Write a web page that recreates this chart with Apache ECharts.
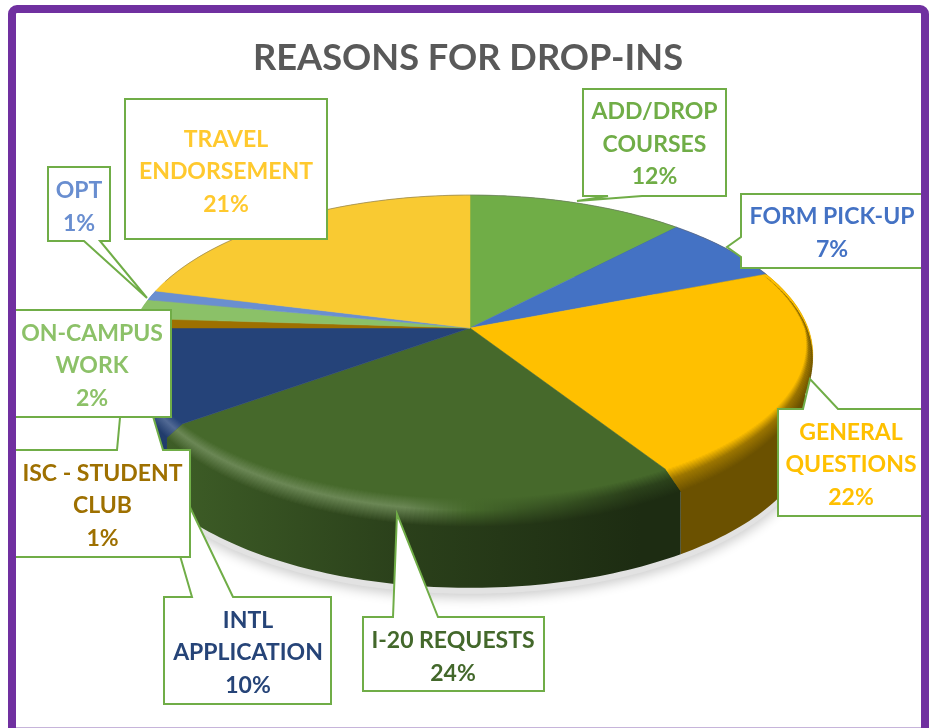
<!DOCTYPE html>
<html><head><meta charset="utf-8">
<style>html,body{margin:0;padding:0;background:#fff}#c{width:931px;height:728px}</style>
<script src="https://cdn.jsdelivr.net/npm/echarts@6/dist/echarts.min.js"></script>
</head><body><div id="c"></div>
<script>
const categories = ['ADD/DROP\nCOURSES','FORM PICK-UP','GENERAL\nQUESTIONS','I-20 REQUESTS','INTL\nAPPLICATION','ISC - STUDENT\nCLUB','ON-CAMPUS\nWORK','OPT','TRAVEL\nENDORSEMENT'];
const values = [12,7,22,24,10,1,2,1,21];
const faceColors = ['#70ad47','#4472c4','#ffc000','#46692b','#254379','#9e7000','#8bc168','#6a8fd0','#f9ca32'];
const textColors = ['#70ad47','#4472c4','#ffc000','#43682b','#264478','#9e7000','#8cc168','#698ed0','#ffc92e'];

// callout geometry: outline points, text centre, stacking order
const callouts = [
 {pts:[[583,89],[726,89],[726,196],[642,196],[577,201],[608,196],[583,196]],c:[654.5,144.5],o:1},
 {pts:[[741,194],[926,194],[926,268],[741,268],[741,257],[727,247],[741,237]],c:[832,233],o:1},
 {pts:[[778,409],[803,409],[810,379],[838,409],[926,409],[926,516],[778,516]],c:[851,465],o:1},
 {pts:[[363,617],[393,617],[397,514],[438,617],[544,617],[544,691],[363,691]],c:[453,657],o:1},
 {pts:[[164,597],[192,597],[129,380],[233,597],[331,597],[331,704],[164,704]],c:[248,653],o:1},
 {pts:[[12,450],[117,450],[128,332],[163,450],[190,450],[190,557],[12,557]],c:[102.5,506],o:2},
 {pts:[[12,310],[171,310],[171,417],[12,417]],c:[92,366],o:3},
 {pts:[[48,167],[110,167],[110,241],[100,241],[147,298],[84,241],[48,241]],c:[79,207],o:1},
 {pts:[[125,99],[327,99],[327,239],[125,239]],c:[226,172],o:1}
];

// projective view of the pie disc
const view = {cx:470, cy:328, R:338, Rv:155, k:0.166, depth:74, bottomScale:1};
function project(a, r, dy, scale){
  const s=Math.sin(a)*r, c=Math.cos(a)*r, d=1+view.k*c, m=scale||1;
  return [view.cx+m*view.R*s/d, view.cy+(dy||0)-m*view.Rv*c/d];
}
function arc(a0,a1,r,dy,scale){
  const n=Math.max(2,Math.ceil((a1-a0)/0.02)), out=[];
  for(let i=0;i<=n;i++) out.push(project(a0+(a1-a0)*i/n,r,dy,scale));
  return out;
}
function shade(hex,f){
  const n=parseInt(hex.slice(1),16);
  const ch=[n>>16,(n>>8)&255,n&255].map(v=>Math.max(0,Math.min(255,Math.round(f>1? v+(255-v)*(f-1):v*f))));
  return 'rgb('+ch.join(',')+')';
}
function ramp(x,stops){
  if(x<=stops[0][0]) return stops[0][1];
  for(let i=1;i<stops.length;i++){
    if(x<=stops[i][0]){const t=(x-stops[i-1][0])/(stops[i][0]-stops[i-1][0]);return stops[i-1][1]+t*(stops[i][1]-stops[i-1][1]);}
  }
  return stops[stops.length-1][1];
}
const wallRamp=[[140,0.92],[395,0.62],[640,0.42],[810,0.42]];
const rimRamp=[[140,1.2],[400,1.2],[520,0.85],[640,0.62],[810,0.6]];
const total = values.reduce((a,b)=>a+b,0);
const starts = []; values.reduce((acc,v,i)=>{starts[i]=acc;return acc+v;},0);

function renderItem(params, api){
  const i=params.dataIndex, v=api.value(0);
  const a0=starts[i]/total*2*Math.PI, a1=(starts[i]+v)/total*2*Math.PI;
  const base=faceColors[i], children=[];
  if(i===0){
    children.push({type:'polygon',z2:0,shape:{points:arc(0,2*Math.PI,1,view.depth+6,view.bottomScale)},
      style:{fill:'#e2e2e2',shadowBlur:12,shadowColor:'rgba(0,0,0,0.2)',shadowOffsetY:4}});
    children.push({type:'polyline',z2:4,shape:{points:arc(-1.25,1.2,1,0)},
      style:{fill:null,stroke:'rgba(110,110,110,0.5)',lineWidth:1}});
  }
  const top=arc(a0,a1,1,0), bottom=arc(a0,a1,1,view.depth,view.bottomScale);
  children.push({type:'polygon',z2:1,shape:{points:top.concat(bottom.slice().reverse())},
    style:{fill:{type:'linear',global:true,x:140,y:0,x2:810,y2:0,colorStops:wallRamp.map(s=>({offset:(s[0]-140)/670,color:shade(base,s[1])}))}}});
  children.push({type:'polygon',z2:2,shape:{points:[project(0,0)].concat(top)},
    style:{fill:base,stroke:base,lineWidth:0.5}});
  // rounded rim between face and wall, built from short gradient strips
  const f0=Math.max(a0,1.19), f1=Math.min(a1,4.72), step=0.012;
  for(let a=f0;a<f1-1e-6;a+=step){
    const b=Math.min(a+step+0.004,f1), m=(a+b)/2;
    const front=Math.max(0,-Math.cos(m));
    const innerR=0.988-0.06*front, outerDy=3+10*front;
    const pin=project(m,innerR), pout=project(m,1,outerDy);
    const x=pout[0];
    children.push({type:'polygon',z2:3,silent:true,
      shape:{points:[project(a,innerR),project(b,innerR),project(b,1,outerDy),project(a,1,outerDy)]},
      style:{fill:{type:'linear',global:true,x:pin[0],y:pin[1],x2:pout[0],y2:pout[1],colorStops:[
        {offset:0,color:base},{offset:0.42,color:shade(base,ramp(x,rimRamp))},
        {offset:1,color:shade(base,ramp(x,wallRamp))}]}}});
  }
  const call=callouts[i], lift=10+call.o*2;
  children.push({type:'polygon',z2:lift,shape:{points:call.pts},
    style:{fill:'#fff',stroke:'#70ad47',lineWidth:2,lineJoin:'miter'}});
  children.push({type:'text',z2:lift+1,style:{text:categories[i]+'\n'+v+'%',x:call.c[0],y:call.c[1],
    align:'center',verticalAlign:'middle',fill:textColors[i],
    font:'bold 23px Lato',lineHeight:32.5}});
  return {type:'group',children};
}

const chart=echarts.init(document.getElementById('c'),null,{renderer:'canvas'});
chart.setOption({
  animation:false,
  backgroundColor:'#fff',
  title:{text:'REASONS FOR DROP-INS',left:253,top:40,padding:0,itemGap:0,
    textStyle:{color:'#595959',fontFamily:'Lato',fontWeight:'bold',fontSize:36.2}},
  series:[{type:'custom',coordinateSystem:'none',silent:true,clip:false,
    data:values.map(v=>[v]),encode:{value:0},renderItem}],
  graphic:[
    {type:'rect',z:100,shape:{x:12,y:9,width:913,height:730,r:5},
      style:{fill:null,stroke:'#7030a0',lineWidth:8}},
    {type:'rect',z:101,shape:{x:16,y:727,width:905,height:1},style:{fill:'#c6b4da'}},
    {type:'rect',z:101,shape:{x:0,y:728,width:931,height:20},style:{fill:'#fff'}}
  ]
});
</script></body></html>
